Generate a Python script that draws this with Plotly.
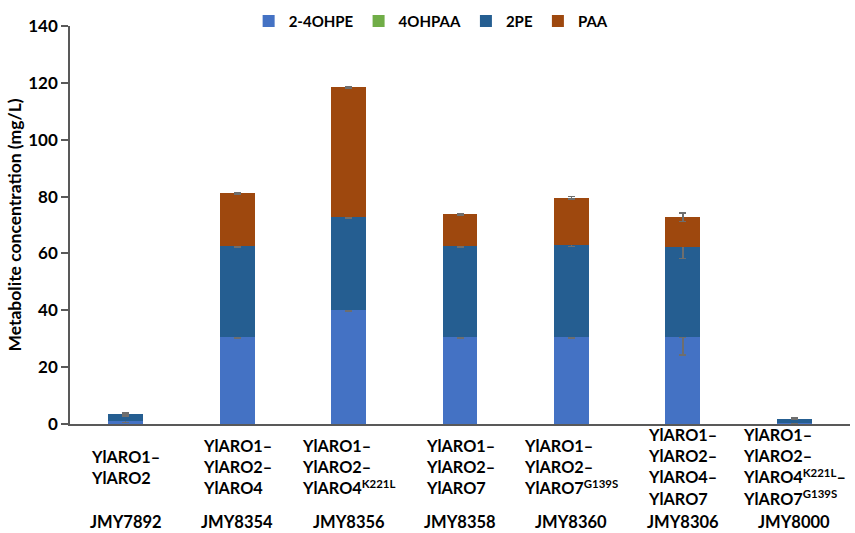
import plotly.graph_objects as go

strains = ["JMY7892", "JMY8354", "JMY8356", "JMY8358", "JMY8360", "JMY8306", "JMY8000"]
genotypes = [
    "YlARO1–<br>YlARO2",
    "YlARO1–<br>YlARO2–<br>YlARO4",
    "YlARO1–<br>YlARO2–<br>YlARO4<sup>K221L</sup>",
    "YlARO1–<br>YlARO2–<br>YlARO7",
    "YlARO1–<br>YlARO2–<br>YlARO7<sup>G139S</sup>",
    "YlARO1–<br>YlARO2–<br>YlARO4–<br>YlARO7",
    "YlARO1–<br>YlARO2–<br>YlARO4<sup>K221L</sup>–<br>YlARO7<sup>G139S</sup>",
]

ohpe = [1.2, 30.6, 40.2, 30.6, 30.5, 30.5, 0.3]
ohpaa = [0, 0, 0, 0, 0, 0, 0]
pe = [2.2, 32.0, 32.6, 32.0, 32.4, 31.8, 1.6]
paa = [0, 18.6, 45.7, 11.2, 16.7, 10.5, 0]

ohpe_err = [0.6, 0.4, 0.4, 0.4, 0.4, 6.3, 0.2]
ohpaa_err = [0, 0, 0, 0, 0, 0, 0]
pe_err = [0.5, 0.4, 0.4, 0.4, 0.4, 4.1, 0.3]
paa_err = [0, 0.3, 0.3, 0.3, 0.4, 1.5, 0]

series = [
    ("2-4OHPE", ohpe, ohpe_err, "#4472C4"),
    ("4OHPAA", ohpaa, ohpaa_err, "#70AD47"),
    ("2PE", pe, pe_err, "#255E91"),
    ("PAA", paa, paa_err, "#9E480E"),
]

FONT = "Lato"
fig = go.Figure()
for name, vals, errs, col in series:
    fig.add_trace(go.Bar(
        x=strains, y=vals, name=f"<b>{name}</b>",
        marker=dict(color=col, line=dict(width=0)),
        error_y=dict(type="data", array=errs, visible=True,
                     color="#6E6E6E", thickness=1.5, width=3.5),
    ))

annotations = []
for s, g in zip(strains, genotypes):
    annotations.append(dict(x=s, xref="x", y=-0.108, yref="paper", text=f"<b>{g}</b>",
                            showarrow=False, align="left", yanchor="middle",
                            font=dict(family=FONT, size=16.3, color="black")))
    annotations.append(dict(x=s, xref="x", y=-0.247, yref="paper", text=f"<b>{s}</b>",
                            showarrow=False, yanchor="middle",
                            font=dict(family=FONT, size=16.5, color="black")))

fig.update_layout(
    width=855, height=533,
    barmode="stack", bargap=0.686,
    plot_bgcolor="white", paper_bgcolor="white",
    margin=dict(l=70, r=5, t=24, b=109),
    font=dict(family=FONT, size=15, color="black"),
    showlegend=True,
    legend=dict(orientation="h", x=0.463, xanchor="center", y=1.012, yanchor="middle",
                font=dict(family=FONT, size=15, color="black"), itemwidth=30,
                traceorder="normal", bgcolor="rgba(0,0,0,0)"),
    xaxis=dict(showticklabels=False, showline=True, linecolor="#595959", linewidth=1.5,
               ticks="", showgrid=False, zeroline=False),
    yaxis=dict(range=[0, 140], dtick=20, showline=True, linecolor="#595959", linewidth=1.5,
               ticks="outside", ticklen=7, tickcolor="#595959", tickwidth=1.5,
               showgrid=False, zeroline=False,
               tickfont=dict(family=FONT, size=17, color="black"),
               tickprefix="<b>", ticksuffix="</b>",
               title=dict(text="<b>Metabolite concentration (mg/L)</b>", standoff=2,
                          font=dict(family=FONT, size=17.5, color="black"))),
    annotations=annotations,
)
fig.write_html("out.html")
